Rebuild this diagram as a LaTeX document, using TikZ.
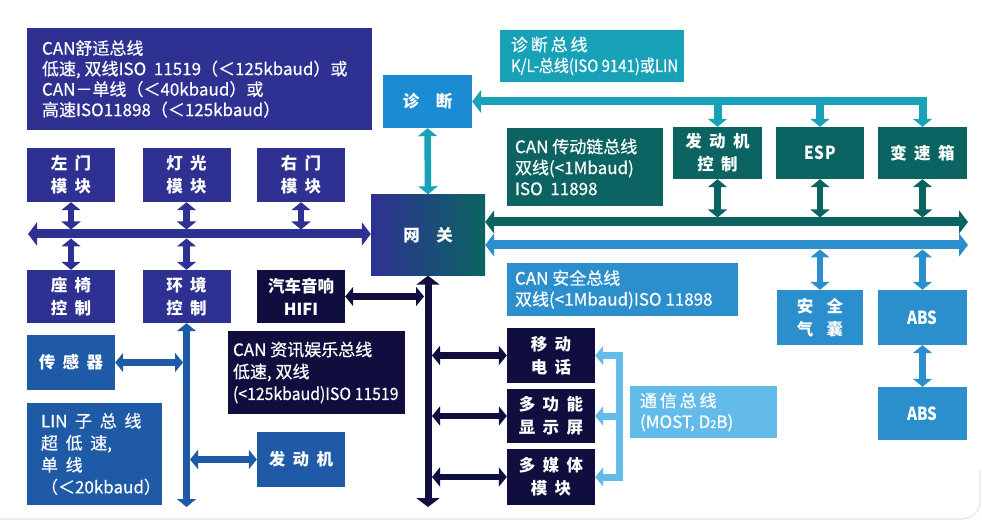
\documentclass[tikz,border=0pt]{standalone}
\usepackage{fontspec}
\newfontfamily\cjk{Noto Sans CJK SC}
\newfontfamily\cjkm[FakeBold=0.5]{Noto Sans CJK SC}
\newfontfamily\cjkc[FakeBold=0.5,FakeStretch=0.88]{Noto Sans CJK SC}
\newfontfamily\cjkn[FakeBold=0.5,FakeStretch=0.93]{Noto Sans CJK SC}
\newfontfamily\cjkb[FakeStretch=0.85]{Noto Sans CJK SC}
\usetikzlibrary{arrows.meta}
\definecolor{comf}{HTML}{2E3192}
\definecolor{linb}{HTML}{1F5AA6}
\definecolor{navy}{HTML}{0F0E3F}
\definecolor{drv}{HTML}{0B6462}
\definecolor{diagt}{HTML}{17A2B8}
\definecolor{diagb}{HTML}{1B8BD3}
\definecolor{safe}{HTML}{2B8FCE}
\definecolor{comm}{HTML}{63BBE9}
\newcommand\gp{\hspace{0.45em}}
\tikzset{
  blk/.style={draw=none, inner sep=0pt, text=white, align=center,
    font=\cjk\bfseries\fontsize{16.5}{23}\selectfont},
  lat/.style={font=\cjkb\bfseries\fontsize{18}{23}\selectfont},
  ibox/.style={draw=none, inner sep=0pt},
  itext/.style={inner sep=0pt, anchor=west, text=white, align=left,
    font=\cjkm\fontsize{17}{21}\selectfont},
  Hd/.tip={Triangle[width=23pt,length=9pt]},
  hd/.tip={Triangle[width=19pt,length=8pt]},
  bus/.style={line width=9pt, {Hd}-{Hd}},
  sh/.style={line width=6.5pt, {hd}-{hd}},
}
\begin{document}
\begin{tikzpicture}[x=1pt,y=-1pt]
\useasboundingbox (0,0) rectangle (982,521);
\fill[white] (0,0) rectangle (982,521);
\draw[black!10, line width=1.2pt, rounded corners=18pt] (0,519) -- (980,519) -- (980,470);

% ---- info boxes
\node[ibox, fill=comf, minimum width=345pt, minimum height=102pt] (comfinfo) at (199.5,79) {};
\node[itext, font=\cjkm\fontsize{17}{20.5}\selectfont] (comfinfo-t) at ([xshift=15pt]comfinfo.west)
 {CAN舒适总线\\低速, 双线ISO\ \ 11519（＜125kbaud）或\\CAN－单线（＜40kbaud）或\\高速ISO11898（＜125kbaud）};
\node[ibox, fill=diagt, minimum width=184pt, minimum height=52pt] (diaginfo) at (592,56) {};
\node[itext] (diaginfo-t) at ([xshift=11pt]diaginfo.west)
 {诊\,断\,总\,线\\{\cjkc K/L-总线(ISO 9141)或LIN}};
\node[ibox, fill=drv, minimum width=156pt, minimum height=78pt] (drvinfo) at (585,167) {};
\node[itext] (drvinfo-t) at ([xshift=8pt]drvinfo.west)
 {CAN 传动链总线\\双线(<1Mbaud)\\ISO\ \ 11898};
\node[ibox, fill=safe, minimum width=231pt, minimum height=53pt] (safeinfo) at (622.5,289.5) {};
\node[itext] (safeinfo-t) at ([xshift=8pt]safeinfo.west)
 {CAN 安全总线\\双线(<1Mbaud)ISO 11898};
\node[ibox, fill=navy, minimum width=177pt, minimum height=83pt] (infoinfo) at (316.5,372.5) {};
\node[itext, font=\cjkm\fontsize{17}{22}\selectfont] (infoinfo-t) at ([xshift=5pt]infoinfo.west)
 {CAN 资讯娱乐总线\\低速, 双线\\{\cjkn (<125kbaud)ISO 11519}};
\node[ibox, fill=comm, minimum width=147pt, minimum height=52pt] (comminfo) at (703.5,412) {};
\node[itext] (comminfo-t) at ([xshift=10pt]comminfo.west)
 {通\,信\,总\,线\\(MOST, D{\fontsize{11}{11}\selectfont 2}B)};
\node[ibox, fill=linb, minimum width=135pt, minimum height=102pt] (lin) at (94.5,454) {};
\node[itext, font=\cjkm\fontsize{17}{22}\selectfont] (lin-t) at ([xshift=14pt]lin.west)
 {LIN\gp 子\gp 总\gp 线\\超\gp 低\gp 速,\\单\gp 线\\（＜20kbaud）};

% ---- blocks
\node[blk, fill=diagb, minimum width=89pt, minimum height=53pt] (diag) at (427.5,101.5) {诊\hspace{1em}断};
\node[blk, fill=drv, minimum width=89pt, minimum height=52pt] (eng) at (717.5,153) {发\gp 动\gp 机\\控\gp 制};
\node[blk, lat, fill=drv, minimum width=88pt, minimum height=52pt] (esp) at (820,153) {E\hspace{1pt}S\hspace{1pt}P};
\node[blk, fill=drv, minimum width=89pt, minimum height=52pt] (gear) at (922.5,153) {变\gp 速\gp 箱};
\node[blk, minimum width=114pt, minimum height=81pt, left color=comf, right color=drv] (gw) at (428,235) {网\hspace{1em}关};
\node[blk, fill=safe, minimum width=86pt, minimum height=55pt] (airbag) at (820,317.5) {安\hspace{0.8em}全\\气\hspace{0.8em}囊};
\node[blk, lat, fill=safe, minimum width=89pt, minimum height=55pt] (abs1) at (922.5,317.5) {ABS};
\node[blk, lat, fill=safe, minimum width=89pt, minimum height=53pt] (abs2) at (922.5,413.5) {ABS};

\node[blk, fill=comf, minimum width=88pt, minimum height=54pt] (ldoor) at (71,175) {左\gp 门\\模\gp 块};
\node[blk, fill=comf, minimum width=88pt, minimum height=54pt] (light) at (186.5,175) {灯\gp 光\\模\gp 块};
\node[blk, fill=comf, minimum width=88pt, minimum height=54pt] (rdoor) at (301,175) {右\gp 门\\模\gp 块};
\node[blk, fill=comf, minimum width=88pt, minimum height=53pt] (seat) at (71,296.5) {座\gp 椅\\控\gp 制};
\node[blk, fill=comf, minimum width=88pt, minimum height=53pt] (env) at (186.5,296.5) {环\gp 境\\控\gp 制};
\node[blk, fill=navy, minimum width=88pt, minimum height=53pt] (hifi) at (301,296.5) {汽车音响\\HIFI};
\node[blk, fill=linb, minimum width=88pt, minimum height=55pt] (sensor) at (71,362.5) {传\gp 感\gp 器};
\node[blk, fill=linb, minimum width=88pt, minimum height=55pt] (motor) at (301,459.5) {发\gp 动\gp 机};
\node[blk, fill=navy, minimum width=88pt, minimum height=55pt] (phone) at (551,355.5) {移\gp 动\\电\gp 话};
\node[blk, fill=navy, minimum width=88pt, minimum height=54pt] (disp) at (551,416) {多\gp 功\gp 能\\显\gp 示\gp 屏};
\node[blk, fill=navy, minimum width=88pt, minimum height=56pt] (media) at (551,477) {多\gp 媒\gp 体\\模\gp 块};

% ---- coordinates
\coordinate (cL) at (28,234);
\coordinate (cT) at (0,229.5);
\coordinate (cB) at (0,238.5);
\coordinate (dR) at (922.5,101.5);
\coordinate (dtR) at (968,222);
\coordinate (dtT) at (0,217.5);
\coordinate (sfR) at (968,245);
\coordinate (sfB) at (0,249.5);
\coordinate (iv) at (428,507);
\coordinate (ivL) at (424,0);
\coordinate (ivR) at (432,0);
\coordinate (ev) at (186.5,507);
\coordinate (evL) at (183,0);
\coordinate (evR) at (190,0);
\coordinate (cb) at (619,0);

% ---- comfort bus
\draw[bus, comf] (cL) -- (cL -| gw.west);
\foreach \b in {ldoor,light,rdoor} \draw[sh, comf] (\b.south) -- (\b.south |- cT);
\foreach \b in {seat,env} \draw[sh, comf] (\b.north) -- (\b.north |- cB);

% ---- diagnosis
\draw[sh, diagt] (diag.south) -- (gw.north);
\draw[line width=8pt, diagt, {Hd}-{hd}] (diag.east) -- (dR) -- (gear.north);
\foreach \b in {eng,esp} \draw[line width=8pt, diagt, -{hd}] (\b.north |- dR) -- (\b.north);

% ---- drivetrain
\draw[bus, drv] (gw.east |- dtR) -- (dtR);
\foreach \b in {eng,esp,gear} \draw[sh, drv] (\b.south) -- (\b.south |- dtT);

% ---- safety
\draw[bus, safe] (gw.east |- sfR) -- (sfR);
\foreach \b in {airbag,abs1} \draw[sh, safe] (\b.north) -- (\b.north |- sfB);
\draw[sh, safe] (abs1.south) -- (abs2.north);

% ---- infotainment
\draw[line width=7pt, navy, {Hd}-{Hd}] (gw.south) -- (iv);
\draw[sh, navy] (hifi.east) -- (hifi.east -| ivL);
\foreach \b in {phone,disp,media} \draw[sh, navy] (\b.west -| ivR) -- (\b.west);

% ---- LIN
\draw[line width=6.5pt, linb, {hd}-{hd}] (env.south) -- (ev);
\draw[sh, linb] (sensor.east) -- (sensor.east -| evL);
\draw[sh, linb] (motor.west) -- (motor.west -| evR);

% ---- communication bus
\draw[line width=7pt, comm, line cap=rect] (phone.east -| cb) -- (media.east -| cb);
\foreach \b in {phone,disp,media} \draw[line width=7pt, comm, -{hd}] (\b.east -| cb) -- (\b.east);
\end{tikzpicture}
\end{document}
